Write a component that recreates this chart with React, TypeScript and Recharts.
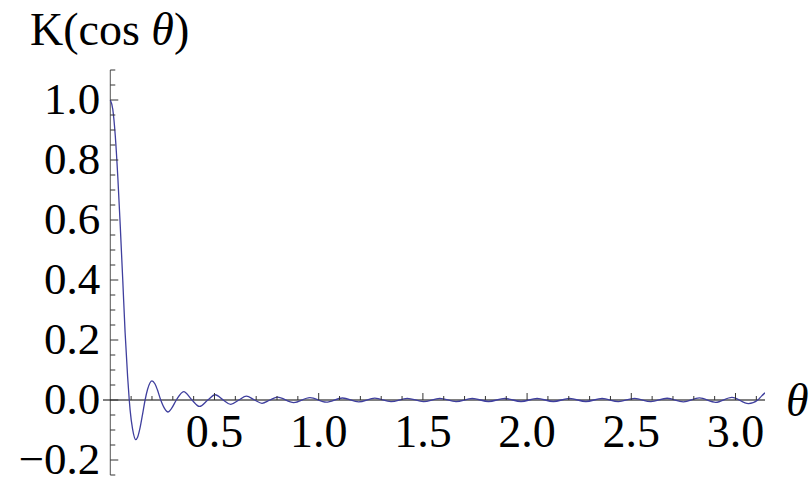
import React from 'react';
import { LineChart, Line, XAxis, YAxis, ReferenceLine, ReferenceDot } from 'recharts';

// theta values (radians) and K(cos theta)
const thetaValues = [
  0, 0.012, 0.024, 0.036, 0.048, 0.06, 0.071, 0.083, 0.091, 0.095,
  0.107, 0.122, 0.131, 0.143, 0.155, 0.167, 0.179, 0.2, 0.214, 0.226,
  0.242, 0.26, 0.277, 0.294, 0.317, 0.352, 0.392, 0.428, 0.468, 0.503,
  0.542, 0.578, 0.617, 0.653, 0.692, 0.728, 0.766, 0.802, 0.88, 0.958,
  1.036, 1.114, 1.192, 1.269, 1.347, 1.425, 1.503, 1.581, 1.659, 1.737,
  1.815, 1.893, 1.971, 2.048, 2.126, 2.204, 2.282, 2.36, 2.438, 2.516,
  2.594, 2.672, 2.75, 2.827, 2.905, 2.983, 3.062, 3.107, 3.125, 3.1416,
];
const kValues = [
  1.0, 0.969, 0.88, 0.744, 0.577, 0.397, 0.226, 0.079, 0, -0.033,
  -0.097, -0.132, -0.124, -0.092, -0.047, 0, 0.036, 0.064, 0.054, 0.034,
  0, -0.028, -0.04, -0.028, 0, 0.028, 0, -0.0215, 0, 0.0175,
  0, -0.0147, 0, 0.0127, 0, -0.011, 0, 0.0095, -0.0086, 0.0078,
  -0.0072, 0.0067, -0.0063, 0.006, -0.0057, 0.0055, -0.0053, 0.0052, -0.0051, 0.005,
  -0.005, 0.005, -0.005, 0.005, -0.005, 0.005, -0.005, 0.005, -0.0051, 0.0052,
  -0.0055, 0.0058, -0.0062, 0.0068, -0.0076, 0.009, -0.012, 0, 0.013, 0.024,
];

const xMajorTicks = [0.5, 1.0, 1.5, 2.0, 2.5, 3.0];
const xTickLabels = ['0.5', '1.0', '1.5', '2.0', '2.5', '3.0'];
const xMinorTicks = [
  0.1, 0.2, 0.3, 0.4, 0.6, 0.7, 0.8, 0.9, 1.1, 1.2, 1.3, 1.4, 1.6, 1.7, 1.8, 1.9,
  2.1, 2.2, 2.3, 2.4, 2.6, 2.7, 2.8, 2.9, 3.1,
];
const yMajorTicks = [-0.2, 0, 0.2, 0.4, 0.6, 0.8, 1.0];
const yTickLabels = ['\u22120.2', '0.0', '0.2', '0.4', '0.6', '0.8', '1.0'];
const yMinorTicks = [
  -0.25, -0.15, -0.1, -0.05, 0.05, 0.1, 0.15, 0.25, 0.3, 0.35, 0.45, 0.5, 0.55,
  0.65, 0.7, 0.75, 0.85, 0.9, 0.95, 1.05, 1.1,
];

const data = thetaValues.map((t, i) => ({ theta: t, k: kValues[i] }));

const FONT = '"Liberation Serif", "DejaVu Serif", serif';
const TICK_COLOR = '#333';

const App: React.FC = () => {
  return (
    <div style={{ position: 'absolute', left: 0, top: 0, width: 811, height: 477, background: '#fff' }}>
      <LineChart width={811} height={477} data={data} margin={{ top: 70, right: 46, bottom: 2, left: 103 }}>
        <XAxis dataKey="theta" type="number" domain={[-0.035, Math.PI]} allowDataOverflow hide />
        <YAxis type="number" domain={[-0.25, 1.1]} allowDataOverflow hide />

        {/* axes through the origin */}
        <ReferenceLine x={0} stroke="#555" strokeWidth={1} />
        <ReferenceLine
          y={0}
          stroke="#000"
          strokeWidth={1}
          label={{ value: 'θ', position: 'right', offset: 21, fontSize: 46, fontStyle: 'italic', fontFamily: FONT, fill: '#000' }}
        />

        {yMinorTicks.map(v => (
          <ReferenceDot key={'ym' + v} x={0} y={v} r={0}
            shape={(p: any) => <line x1={p.cx} x2={p.cx + 5} y1={p.cy} y2={p.cy} stroke={TICK_COLOR} strokeWidth={1} />}
          />
        ))}
        {yMajorTicks.map((v, i) => (
          <ReferenceDot key={'yM' + v} x={0} y={v} r={0}
            shape={(p: any) => (
              <g>
                <line x1={p.cx} x2={p.cx + 8} y1={p.cy} y2={p.cy} stroke={TICK_COLOR} strokeWidth={1} />
                <text x={p.cx - 10} y={p.cy + 14} textAnchor="end" fontSize={45} fontFamily={FONT} fill="#000">
                  {yTickLabels[i]}
                </text>
              </g>
            )}
          />
        ))}
        {xMinorTicks.map(v => (
          <ReferenceDot key={'xm' + v} x={v} y={0} r={0}
            shape={(p: any) => <line x1={p.cx} x2={p.cx} y1={p.cy} y2={p.cy - 4} stroke={TICK_COLOR} strokeWidth={1} />}
          />
        ))}
        {xMajorTicks.map((v, i) => (
          <ReferenceDot key={'xM' + v} x={v} y={0} r={0}
            shape={(p: any) => (
              <g>
                <line x1={p.cx} x2={p.cx} y1={p.cy} y2={p.cy - 7} stroke={TICK_COLOR} strokeWidth={1} />
                <text x={p.cx} y={p.cy + 47} textAnchor="middle" fontSize={46} fontFamily={FONT} fill="#000">
                  {xTickLabels[i]}
                </text>
              </g>
            )}
          />
        ))}

        <Line type="monotone" dataKey="k" stroke="#3f3f9e" strokeWidth={1.3} dot={false} isAnimationActive={false} />
      </LineChart>

      <svg width={811} height={70} style={{ position: 'absolute', left: 0, top: 0 }}>
        <text x={30} y={45} fontSize={46} fontFamily={FONT} fill="#000">
          K(cos <tspan fontStyle="italic">θ</tspan>)
        </text>
      </svg>
    </div>
  );
};

export default App;
